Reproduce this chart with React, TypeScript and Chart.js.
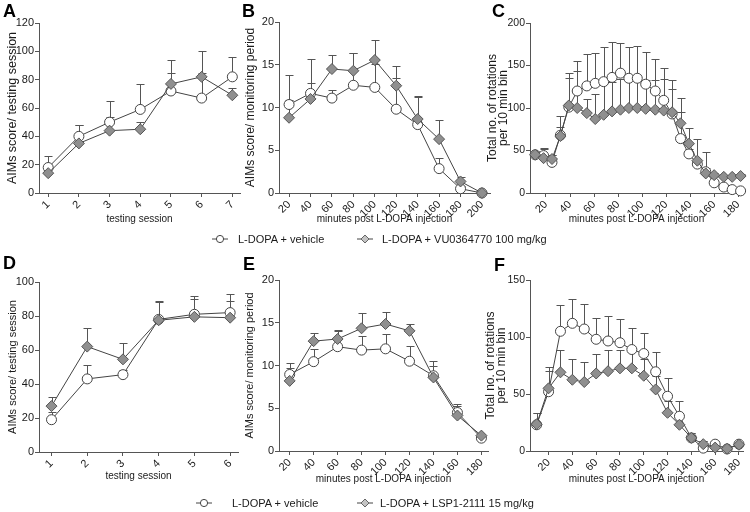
import React, { useEffect, useRef } from "react";
import { Chart, registerables } from "chart.js";

Chart.register(...registerables);

const FONT = "'Liberation Sans', Arial, Helvetica, sans-serif";
const W = 750;
const H = 512;
const X_AXIS_H = 40;

// ---------- Panel A: testing sessions (VU0364770) ----------
const aSessions = [1, 2, 3, 4, 5, 6, 7];
const aVehicle = [18, 40, 50, 59, 72, 67, 82];
const aVehicleSem = [8, 8, 15, 18, 13, 18, 14];
const aDrug = [14, 35, 44, 45, 77, 82, 69];
const aDrugSem = [6, 13, 10, 5, 17, 18, 5];

// ---------- Panel B: monitoring periods (VU0364770) ----------
const bMinutes = [20, 40, 60, 80, 100, 120, 140, 160, 180, 200];
const bVehicle = [10.35, 11.65, 11.1, 12.6, 12.35, 9.8, 8.0, 2.85, 0.5, 0];
const bVehicleSem = [3.4, 4.0, 0.9, 3.8, 2.7, 3.6, 3.4, 1.3, 0.3, 0];
const bDrug = [8.8, 11.0, 14.5, 14.3, 15.55, 12.55, 8.65, 6.3, 1.35, 0];
const bDrugSem = [2.1, 1.9, 1.6, 2.1, 2.3, 2.3, 2.6, 2.2, 0.5, 0];

// ---------- Panel C: rotations (VU0364770) ----------
const cMinutes = [11, 18, 25, 32, 39, 46, 54, 61, 68, 75, 82, 89, 96, 103, 111, 118, 125, 132, 139, 146, 153, 160, 168, 175, 182];
const cTickLabels = [20, 40, 60, 80, 100, 120, 140, 160, 180];
const cVehicle = [45, 44, 36, 68, 101, 120, 126, 129, 131, 136, 141, 135, 135, 128, 120, 109, 93, 64, 46, 34, 25, 12, 7, 4, 2.5];
const cVehicleSem = [4, 9, 9, 23, 40, 35, 37, 36, 41, 42, 35, 37, 38, 38, 38, 38, 40, 31, 6, 4, 5, 3, 2, 1, 1];
const cDrug = [45, 41, 40, 67, 103, 100, 94, 87, 92, 96, 98, 100, 100, 99, 98, 97, 95, 82, 58, 38, 23, 21, 19, 19, 20];
const cDrugSem = [4, 11, 5, 11, 32, 43, 16, 29, 37, 35, 36, 35, 36, 34, 35, 37, 27, 30, 18, 25, 25, 2, 2, 2, 2];

// ---------- Panel D: testing sessions (LSP1-2111) ----------
const dSessions = [1, 2, 3, 4, 5, 6];
const dVehicle = [19, 43, 45.5, 78, 81, 82];
const dVehicleSem = [4.5, 8, 2.5, 10, 11, 11];
const dDrug = [27, 62, 54.5, 77.5, 79.5, 79];
const dDrugSem = [5.5, 11, 9.5, 11.5, 10.5, 10];

// ---------- Panel E: monitoring periods (LSP1-2111) ----------
const eMinutes = [20, 40, 60, 80, 100, 120, 140, 160, 180];
const eVehicle = [8.95, 10.45, 12.2, 11.8, 11.95, 10.5, 8.8, 4.5, 1.5];
const eVehicleSem = [1.3, 1.5, 1.8, 1.7, 1.7, 1.8, 1.7, 1.0, 0.1];
const eDrug = [8.2, 12.85, 13.1, 14.35, 14.85, 14.05, 8.6, 4.15, 1.8];
const eDrugSem = [1.5, 0.9, 1.1, 1.75, 1.35, 0.85, 1.4, 1.1, 0.1];

// ---------- Panel F: rotations (LSP1-2111) ----------
const fMinutes = [10, 20, 30, 40, 50, 60, 70, 80, 90, 100, 110, 120, 130, 140, 150, 160, 170, 180];
const fTickLabels = [20, 40, 60, 80, 100, 120, 140, 160, 180];
const fVehicle = [23, 52, 105, 112, 107, 98, 96.5, 95, 89, 85.5, 69.5, 48, 30.5, 11.5, 2.5, 6, 1.8, 6];
const fVehicleSem = [10, 22, 23, 21, 22, 19, 22, 21, 19, 18, 17, 16, 13, 4, 6, 3, 2, 0];
const fDrug = [23.5, 55, 69, 62.5, 60.5, 68, 70, 72.5, 72.5, 66, 54, 33.5, 23, 11.5, 6, 3, 2, 5.5];
const fDrugSem = [10, 15, 20, 18, 18, 17, 19, 16, 17, 15, 12, 10, 6, 4, 3, 1, 1, 1];

const legendTop = ["L-DOPA + vehicle", "L-DOPA + VU0364770 100 mg/kg"];
const legendBottom = ["L-DOPA + vehicle", "L-DOPA + LSP1-2111 15 mg/kg"];

type PanelSpec = {
  letter: string;
  letterX: number;
  letterY: number;
  left: number;
  right: number;
  top: number;
  bottom: number;
  xMin: number;
  xMax: number;
  xs: number[];
  xTicks: number[];
  yMax: number;
  yStep: number;
  yTickSize: number;
  vehicle: number[];
  vehicleSem: number[];
  drug: number[];
  drugSem: number[];
  yTitle: string | string[];
  yTitleSize: number;
  yTitleCenter: number;
  xTitle: string;
  xTitleCenter: number;
};

const panels: PanelSpec[] = [
  {
    letter: "A", letterX: 3, letterY: 2,
    left: 39, right: 240, top: 23, bottom: 193,
    xMin: 0.7, xMax: 7.25, xs: aSessions, xTicks: aSessions,
    yMax: 120, yStep: 20, yTickSize: 11,
    vehicle: aVehicle, vehicleSem: aVehicleSem, drug: aDrug, drugSem: aDrugSem,
    yTitle: "AIMs score/ testing session", yTitleSize: 12.5, yTitleCenter: 12.5,
    xTitle: "testing session", xTitleCenter: 219,
  },
  {
    letter: "B", letterX: 242, letterY: 2,
    left: 279, right: 490, top: 22, bottom: 193,
    xMin: 10.6, xMax: 207.5, xs: bMinutes, xTicks: bMinutes,
    yMax: 20, yStep: 5, yTickSize: 11,
    vehicle: bVehicle, vehicleSem: bVehicleSem, drug: bDrug, drugSem: bDrugSem,
    yTitle: "AIMs score/ monitoring period", yTitleSize: 12, yTitleCenter: 251,
    xTitle: "minutes post L-DOPA injection", xTitleCenter: 219,
  },
  {
    letter: "C", letterX: 492, letterY: 2,
    left: 530, right: 743, top: 23, bottom: 193,
    xMin: 6.7, xMax: 184, xs: cMinutes, xTicks: cTickLabels,
    yMax: 200, yStep: 50, yTickSize: 10.5,
    vehicle: cVehicle, vehicleSem: cVehicleSem, drug: cDrug, drugSem: cDrugSem,
    yTitle: ["Total no. of rotations", "per 10 min bin"], yTitleSize: 12, yTitleCenter: 492.5,
    xTitle: "minutes post L-DOPA injection", xTitleCenter: 219,
  },
  {
    letter: "D", letterX: 3, letterY: 254,
    left: 39, right: 238, top: 282, bottom: 452,
    xMin: 0.65, xMax: 6.22, xs: dSessions, xTicks: dSessions,
    yMax: 100, yStep: 20, yTickSize: 11,
    vehicle: dVehicle, vehicleSem: dVehicleSem, drug: dDrug, drugSem: dDrugSem,
    yTitle: "AIMs score/ testing session", yTitleSize: 11, yTitleCenter: 12.5,
    xTitle: "testing session", xTitleCenter: 476,
  },
  {
    letter: "E", letterX: 243, letterY: 255,
    left: 279, right: 488, top: 280, bottom: 451,
    xMin: 11.1, xMax: 185.5, xs: eMinutes, xTicks: eMinutes,
    yMax: 20, yStep: 5, yTickSize: 11,
    vehicle: eVehicle, vehicleSem: eVehicleSem, drug: eDrug, drugSem: eDrugSem,
    yTitle: "AIMs score/ monitoring period", yTitleSize: 11, yTitleCenter: 249.5,
    xTitle: "minutes post L-DOPA injection", xTitleCenter: 479,
  },
  {
    letter: "F", letterX: 494, letterY: 256,
    left: 530, right: 743, top: 280, bottom: 451,
    xMin: 4.4, xMax: 183.4, xs: fMinutes, xTicks: fTickLabels,
    yMax: 150, yStep: 50, yTickSize: 10.5,
    vehicle: fVehicle, vehicleSem: fVehicleSem, drug: fDrug, drugSem: fDrugSem,
    yTitle: ["Total no. of rotations", "per 10 min bin"], yTitleSize: 12, yTitleCenter: 491,
    xTitle: "minutes post L-DOPA injection", xTitleCenter: 479,
  },
];

const AXIS = "#555";
const TEXT = "#1a1a1a";
const LINE = "#444";

const errorBarPlugin = {
  id: "errorBars",
  beforeDatasetsDraw(chart: any) {
    const ctx = chart.ctx;
    const yScale = chart.scales.y;
    chart.data.datasets.forEach((ds: any, i: number) => {
      const errs: number[] | undefined = ds.errors;
      if (!errs) return;
      const meta = chart.getDatasetMeta(i);
      ctx.save();
      ctx.strokeStyle = AXIS;
      ctx.lineWidth = 1;
      meta.data.forEach((el: any, j: number) => {
        const e = errs[j];
        if (!e) return;
        const v = ds.data[j].y;
        const x = Math.round(el.x) + 0.5;
        const y0 = el.y;
        const y1 = Math.round(yScale.getPixelForValue(v + e)) + 0.5;
        ctx.beginPath();
        ctx.moveTo(x, y0);
        ctx.lineTo(x, y1);
        ctx.moveTo(x - 4, y1);
        ctx.lineTo(x + 4, y1);
        ctx.stroke();
      });
      ctx.restore();
    });
  },
};

function Panel({ spec }: { spec: PanelSpec }) {
  const ref = useRef<HTMLCanvasElement | null>(null);
  useEffect(() => {
    if (!ref.current) return;
    const multi = Array.isArray(spec.yTitle);
    const titleLH = multi ? 0.9 : 1.2;
    const halfLH = (spec.yTitleSize * titleLH) / 2;
    const padLeft = spec.yTitleCenter - halfLH;
    const yWidth = spec.left - padLeft;
    const xTitlePadBottom = spec.bottom + X_AXIS_H - 6 - spec.xTitleCenter;
    const toPts = (vals: number[]) => vals.map((v, i) => ({ x: spec.xs[i], y: v }));
    const chart = new Chart(ref.current, {
      type: "line",
      data: {
        datasets: [
          {
            label: "drug",
            data: toPts(spec.drug),
            errors: spec.drugSem,
            borderColor: LINE,
            borderWidth: 1,
            pointStyle: "rectRot",
            pointRadius: 5.5,
            pointBackgroundColor: "#8f8f8f",
            pointBorderColor: "#555",
            pointBorderWidth: 1,
            clip: false,
          } as any,
          {
            label: "vehicle",
            data: toPts(spec.vehicle),
            errors: spec.vehicleSem,
            borderColor: LINE,
            borderWidth: 1,
            pointStyle: "circle",
            pointRadius: 5,
            pointBackgroundColor: "#ffffff",
            pointBorderColor: LINE,
            pointBorderWidth: 1,
            clip: false,
          } as any,
        ],
      },
      options: {
        responsive: false,
        animation: false,
        events: [],
        layout: {
          padding: {
            left: padLeft,
            top: spec.top,
            right: W - spec.right,
            bottom: H - spec.bottom - X_AXIS_H,
          },
        },
        plugins: {
          legend: { display: false },
          tooltip: { enabled: false },
        },
        scales: {
          x: {
            type: "linear",
            min: spec.xMin,
            max: spec.xMax,
            afterBuildTicks: (s: any) => {
              s.ticks = spec.xTicks.map((v) => ({ value: v }));
            },
            afterFit: (s: any) => {
              s.height = X_AXIS_H;
            },
            grid: { display: true, drawOnChartArea: false, drawTicks: true, tickLength: 4, color: AXIS },
            border: { display: true, color: AXIS, width: 1 },
            ticks: {
              font: { family: FONT, size: 11 },
              color: TEXT,
              minRotation: 45,
              maxRotation: 45,
              autoSkip: false,
              padding: 1,
            },
            title: {
              display: true,
              text: spec.xTitle,
              font: { family: FONT, size: 10 },
              color: TEXT,
              padding: { top: 0, bottom: xTitlePadBottom },
            },
          },
          y: {
            type: "linear",
            min: 0,
            max: spec.yMax,
            afterFit: (s: any) => {
              s.width = yWidth;
            },
            grid: { display: true, drawOnChartArea: false, drawTicks: true, tickLength: 4, color: AXIS },
            border: { display: true, color: AXIS, width: 1 },
            ticks: {
              stepSize: spec.yStep,
              font: { family: FONT, size: spec.yTickSize },
              color: TEXT,
              padding: 1,
            },
            title: {
              display: true,
              text: spec.yTitle as any,
              font: { family: FONT, size: spec.yTitleSize, lineHeight: titleLH },
              color: TEXT,
              padding: { top: 0, bottom: 0 },
            },
          },
        },
      } as any,
      plugins: [errorBarPlugin],
    });
    return () => chart.destroy();
  }, [spec]);
  return (
    <canvas
      ref={ref}
      width={W}
      height={H}
      style={{ position: "absolute", left: 0, top: 0, width: W, height: H }}
    />
  );
}

function Marker({ kind, cx, cy }: { kind: "circle" | "diamond"; cx: number; cy: number }) {
  return (
    <svg
      width={18}
      height={12}
      style={{ position: "absolute", left: cx - 9, top: cy - 6 }}
    >
      <line x1={1} y1={6} x2={17} y2={6} stroke={LINE} strokeWidth={1} />
      {kind === "circle" ? (
        <circle cx={9} cy={6} r={3.6} fill="#fff" stroke={LINE} strokeWidth={1} />
      ) : (
        <polygon points="9,2 13,6 9,10 5,6" fill="#c4c4c4" stroke="#666" strokeWidth={1} />
      )}
    </svg>
  );
}

function LegendText({ text, x, cy }: { text: string; x: number; cy: number }) {
  return (
    <div
      style={{
        position: "absolute",
        left: x,
        top: cy - 7,
        height: 14,
        lineHeight: "14px",
        fontFamily: FONT,
        fontSize: 11,
        color: TEXT,
        whiteSpace: "nowrap",
      }}
    >
      {text}
    </div>
  );
}

export default function App() {
  return (
    <div
      style={{
        position: "fixed",
        left: 0,
        top: 0,
        width: W,
        height: H,
        background: "#ffffff",
        overflow: "hidden",
      }}
    >
      {panels.map((p) => (
        <Panel key={p.letter} spec={p} />
      ))}
      {panels.map((p) => (
        <div
          key={"l" + p.letter}
          style={{
            position: "absolute",
            left: p.letterX,
            top: p.letterY,
            fontFamily: FONT,
            fontWeight: "bold",
            fontSize: 18,
            lineHeight: "18px",
            color: "#000",
          }}
        >
          {p.letter}
        </div>
      ))}
      <Marker kind="circle" cx={220} cy={239} />
      <LegendText text={legendTop[0]} x={238} cy={239} />
      <Marker kind="diamond" cx={365} cy={239} />
      <LegendText text={legendTop[1]} x={382} cy={239} />
      <Marker kind="circle" cx={204} cy={503} />
      <LegendText text={legendBottom[0]} x={232} cy={503} />
      <Marker kind="diamond" cx={365} cy={503} />
      <LegendText text={legendBottom[1]} x={380} cy={503} />
    </div>
  );
}
